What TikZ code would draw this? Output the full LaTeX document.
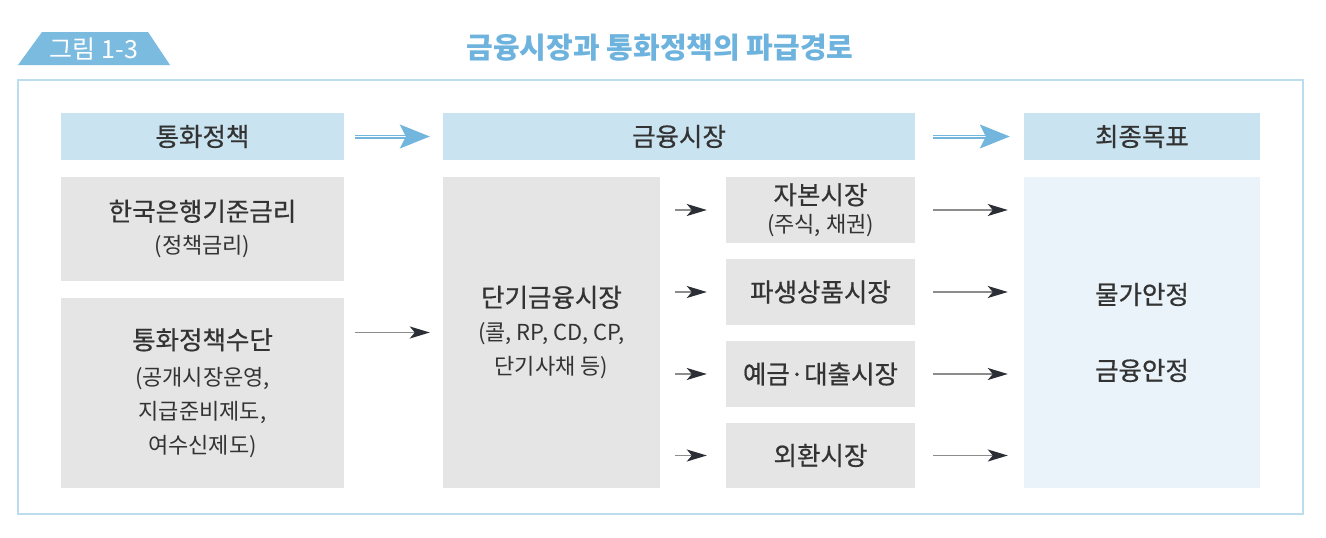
\documentclass[tikz,border=0pt]{standalone}
\usepackage{fontspec}
\setmainfont{Noto Sans CJK KR}
\newfontfamily\medfont{Noto Sans CJK KR}[FakeBold=0.6]
\usetikzlibrary{positioning,arrows.meta}

\definecolor{tagblue}{HTML}{7BBBE0}
\definecolor{titleblue}{HTML}{6DB3DD}
\definecolor{framecol}{HTML}{BCDDEE}
\definecolor{headblue}{HTML}{C9E3F0}
\definecolor{boxgray}{HTML}{E5E5E5}
\definecolor{goalblue}{HTML}{EAF3F9}
\definecolor{arrowblue}{HTML}{72B6DE}
\definecolor{linegray}{HTML}{8C8C8C}
\definecolor{tipdark}{HTML}{2B2E35}
\definecolor{textgray}{HTML}{333333}

\newcommand\headtxt{\medfont\fontsize{25.5}{30}\selectfont}
\newcommand\bigtxt{\medfont\fontsize{25.5}{34}\selectfont}
\newcommand\smalltxt{\fontsize{22}{34}\selectfont}

\begin{document}
\begin{tikzpicture}[x=1pt,y=-1pt,
  headbox/.style={
    rectangle,
    fill=headblue,
    inner sep=0pt,
    minimum height=47pt,
    text=textgray,
    font=\headtxt
  },
  greybox/.style={
    rectangle,
    fill=boxgray,
    inner sep=0pt,
    align=center,
    text=textgray,
    font=\smalltxt
  },
  goalbox/.style={
    rectangle,
    fill=goalblue,
    inner sep=0pt,
    align=center,
    text=textgray,
    font=\bigtxt
  },
  dblarrow/.style={
    draw=arrowblue,
    double=white,
    double distance=1.2pt,
    line width=1.4pt,
    -{Stealth[length=30pt,width=24pt,inset=6pt]}
  },
  thinarrow/.style={
    draw=linegray,
    line width=1.6pt,
    -{Stealth[length=20pt,width=12pt,inset=5pt,color=tipdark]}
  }]
  \useasboundingbox (0,0) rectangle (1326,538);
  % tag and title
  \fill[tagblue] (42,32) -- (148,32) -- (170,65) -- (18,65) -- cycle;
  \node[text=white, font=\fontsize{25}{30}\selectfont] (tag) at (94,49) {그림 1-3};
  \node[text=titleblue, font=\fontsize{29}{34}\selectfont\bfseries] (title) at (660,48) {금융시장과 통화정책의 파급경로};
  \draw[framecol, line width=2pt] (18,80) rectangle (1303,514);
  % header row
  \node[headbox, minimum width=283pt] (policyhead) at (202.5,136.5) {통화정책};
  \node[headbox, minimum width=472pt] (markethead) at (679,136.5) {금융시장};
  \node[headbox, minimum width=236pt] (goalhead) at (1142,136.5) {최종목표};
  % left column
  \node[greybox, minimum width=283pt, minimum height=104pt] (rate) at (202.5,229)
    {{\bigtxt 한국은행기준금리}\\[-1pt] (정책금리)};
  \node[greybox, minimum width=283pt, minimum height=190pt] (tools) at (202.5,393)
    {{\bigtxt 통화정책수단}\\[2pt] (공개시장운영,\\ 지급준비제도,\\ 여수신제도)};
  % markets
  \node[greybox, minimum width=217pt, minimum height=311pt] (shortmkt) at (551.5,332.5)
    {{\bigtxt 단기금융시장}\\ (콜, RP, CD, CP,\\ 단기사채 등)};
  \node[greybox, minimum width=189pt, minimum height=66pt] (capital) at (820.5,210)
    {{\bigtxt 자본시장}\\[-6pt] (주식, 채권)};
  \node[greybox, minimum width=189pt, minimum height=66pt, font=\bigtxt] (deriv) at (820.5,292) {파생상품시장};
  \node[greybox, minimum width=189pt, minimum height=66pt, font=\bigtxt] (loan) at (820.5,374) {예금·대출시장};
  \node[greybox, minimum width=189pt, minimum height=65pt, font=\bigtxt] (forex) at (820.5,455.5) {외환시장};
  % goals
  \node[goalbox, minimum width=236pt, minimum height=311pt] (goal) at (1142,332.5)
    {물가안정\\[42pt] 금융안정};
  % arrows
  \draw[dblarrow, shorten <=11pt, shorten >=13pt] (policyhead) -- (markethead);
  \draw[dblarrow, shorten <=18pt, shorten >=14pt] (markethead) -- (goalhead);
  \draw[thinarrow, shorten <=11pt, shorten >=13pt] (tools.east |- shortmkt) -- (shortmkt);
  \foreach \mkt in {capital,deriv,loan,forex} {
    \draw[thinarrow, shorten <=15pt, shorten >=19pt] (shortmkt.east |- \mkt) -- (\mkt);
    \draw[thinarrow, shorten <=18pt, shorten >=16pt] (\mkt) -- (goal.west |- \mkt);
  }
\end{tikzpicture}
\end{document}
